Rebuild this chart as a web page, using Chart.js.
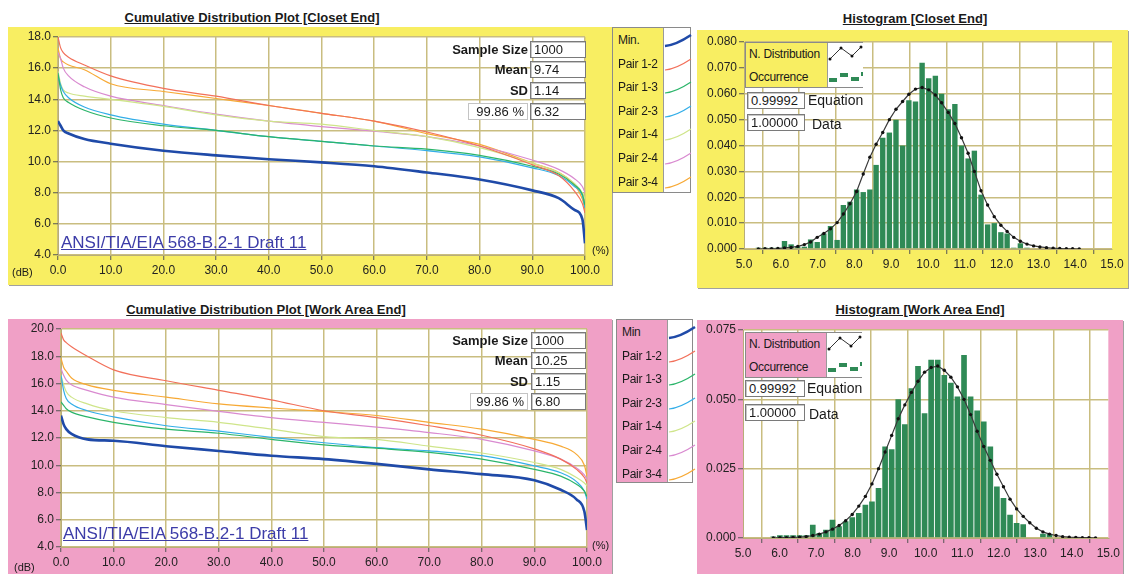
<!DOCTYPE html>
<html>
<head>
<meta charset="utf-8">
<title>Cable test distributions</title>
<script src="https://cdn.jsdelivr.net/npm/chart.js@4.4.1/dist/chart.umd.min.js"></script>
<style>
  body { margin: 0; background: #fff; font-family: "Liberation Sans", Arial, sans-serif; color: #1a1a1a; }
  #page { position: relative; width: 1133px; height: 574px; overflow: hidden; }
  canvas { position: absolute; box-shadow: 1px 1px 0 #a0a0a0; }
  .t { position: absolute; white-space: nowrap; }
  .title { font-weight: bold; font-size: 13px; text-decoration: underline; transform: translateX(-50%); }
  .stat { font-weight: bold; font-size: 13px; line-height: 17px; text-align: right; }
  .box { background: #fff; border: 1px solid #7a7a7a; box-shadow: inset 1px 1px 0 #c8c8c8; font-size: 13px;
         padding-left: 3px; box-sizing: border-box; height: 17px; line-height: 15px; }
  .ansi { font-size: 17px; color: #3c3ca8; text-decoration: underline; }
  .small { font-size: 11px; }
  .legend { position: absolute; border: 1px solid #8a8a8a; box-sizing: border-box; }
  .legend .strip { position: absolute; top: 0; background: #fff; border-left: 1px solid #9a9a9a; }
  .legend .lab { position: absolute; font-size: 12px; white-space: nowrap; letter-spacing: -0.3px; }
</style>
</head>
<body>
<div id="page">
  <canvas id="cdfCloset" width="604" height="258" style="left:8px;top:27px;background:#f8ee62"></canvas>
  <canvas id="histCloset" width="431" height="258" style="left:697px;top:30px;background:#f8ee62"></canvas>
  <canvas id="cdfWork" width="604" height="255" style="left:8px;top:319px;background:#f0a0c6"></canvas>
  <canvas id="histWork" width="426" height="254" style="left:697px;top:320px;background:#f0a0c6"></canvas>

  <div class="t title" style="left:252px;top:10px">Cumulative Distribution Plot [Closet End]</div>
  <div class="t title" style="left:915px;top:11px">Histogram [Closet End]</div>
  <div class="t title" style="left:266px;top:302px">Cumulative Distribution Plot [Work Area End]</div>
  <div class="t title" style="left:920px;top:302px">Histogram [Work Area End]</div>

  <!-- closet end stats -->
  <div class="t stat" style="right:605px;top:41px">Sample Size</div>
  <div class="t box" style="left:530px;top:41px;width:56px">1000</div>
  <div class="t stat" style="right:605px;top:61px">Mean</div>
  <div class="t box" style="left:530px;top:61px;width:56px">9.74</div>
  <div class="t stat" style="right:605px;top:82px">SD</div>
  <div class="t box" style="left:530px;top:82px;width:56px">1.14</div>
  <div class="t box" style="left:468px;top:103px;width:60px;text-align:right;padding-right:3px;border-color:#c4c4c4;box-shadow:none">99.86 %</div>
  <div class="t box" style="left:530px;top:103px;width:56px">6.32</div>

  <!-- work area end stats -->
  <div class="t stat" style="right:605px;top:332px">Sample Size</div>
  <div class="t box" style="left:531px;top:332px;width:55px">1000</div>
  <div class="t stat" style="right:605px;top:352px">Mean</div>
  <div class="t box" style="left:531px;top:352px;width:55px">10.25</div>
  <div class="t stat" style="right:605px;top:373px">SD</div>
  <div class="t box" style="left:531px;top:373px;width:55px">1.15</div>
  <div class="t box" style="left:470px;top:393px;width:58px;text-align:right;padding-right:3px;border-color:#c4c4c4;box-shadow:none">99.86 %</div>
  <div class="t box" style="left:531px;top:393px;width:55px">6.80</div>

  <div class="t ansi" style="left:61px;top:233px">ANSI/TIA/EIA 568-B.2-1 Draft 11</div>
  <div class="t ansi" style="left:63px;top:524px">ANSI/TIA/EIA 568-B.2-1 Draft 11</div>
  <div class="t small" style="left:12px;top:266px">(dB)</div>
  <div class="t small" style="left:14px;top:561px">(dB)</div>
  <div class="t small" style="left:592px;top:244px">(%)</div>
  <div class="t small" style="left:592px;top:539px">(%)</div>

  <div id="legCloset" class="legend" style="left:612px;top:27px;width:79px;height:166px;background:#f8ee62"></div>
  <div id="legWork" class="legend" style="left:616px;top:319px;width:77px;height:164px;background:#f0a0c6"></div>

  <!-- histogram legends -->
  <div class="legend" style="left:745px;top:42px;width:118px;height:46px;background:#f8ee62">
    <div class="lab" style="left:3px;top:4px">N. Distribution</div>
    <div class="lab" style="left:3px;top:27px">Occurrence</div>
    <svg class="strip" style="left:81px" width="35" height="44">
      <polyline points="2,16 13,5 24,13 33,4" fill="none" stroke="#333" stroke-width="1"/>
      <circle cx="2" cy="16" r="1.5" fill="#111"/><circle cx="13" cy="5" r="1.5" fill="#111"/>
      <circle cx="24" cy="13" r="1.5" fill="#111"/><circle cx="33" cy="4" r="1.5" fill="#111"/>
      <path d="M1,37H9M12,32H20M23,36H31M33,31H35" stroke="#2f8a56" stroke-width="4"/>
    </svg>
  </div>
  <div class="t box" style="left:747px;top:92px;width:58px">0.99992</div>
  <div class="t" style="left:808px;top:92px;font-size:14px">Equation</div>
  <div class="t box" style="left:747px;top:114px;width:58px">1.00000</div>
  <div class="t" style="left:812px;top:116px;font-size:14px">Data</div>

  <div class="legend" style="left:745px;top:332px;width:117px;height:46px;background:#f0a0c6">
    <div class="lab" style="left:3px;top:4px">N. Distribution</div>
    <div class="lab" style="left:3px;top:27px">Occurrence</div>
    <svg class="strip" style="left:80px" width="35" height="44">
      <polyline points="2,16 13,5 24,13 33,4" fill="none" stroke="#333" stroke-width="1"/>
      <circle cx="2" cy="16" r="1.5" fill="#111"/><circle cx="13" cy="5" r="1.5" fill="#111"/>
      <circle cx="24" cy="13" r="1.5" fill="#111"/><circle cx="33" cy="4" r="1.5" fill="#111"/>
      <path d="M1,37H9M12,32H20M23,36H31M33,31H35" stroke="#2f8a56" stroke-width="4"/>
    </svg>
  </div>
  <div class="t box" style="left:745px;top:380px;width:60px">0.99992</div>
  <div class="t" style="left:807px;top:380px;font-size:14px">Equation</div>
  <div class="t box" style="left:745px;top:404px;width:60px">1.00000</div>
  <div class="t" style="left:809px;top:406px;font-size:14px">Data</div>
</div>

<script>
// cumulative distribution: percent of links vs NEXT margin (dB)
const cdfPct = [0, 0.5, 1, 2, 5, 10, 20, 30, 40, 50, 60, 70, 80, 90, 95, 98, 99.5, 100];

const closetLabels = ["Min.", "Pair 1-2", "Pair 1-3", "Pair 2-3", "Pair 1-4", "Pair 2-4", "Pair 3-4"];
const workLabels = ["Min", "Pair 1-2", "Pair 1-3", "Pair 2-3", "Pair 1-4", "Pair 2-4", "Pair 3-4"];
const seriesColors = ["#1f4aa8", "#f2705a", "#2bb56a", "#33aee8", "#cfe58a", "#d98ad0", "#f7a935"];

const closetMin = [12.6, 12.3, 12.0, 11.8, 11.45, 11.15, 10.7, 10.4, 10.15, 9.95, 9.7, 9.3, 8.85, 8.15, 7.65, 6.9, 6.3, 4.75];
const closet12 = [18.0, 17.3, 17.0, 16.7, 16.2, 15.5, 14.7, 14.2, 13.6, 13.1, 12.6, 11.9, 11.0, 9.8, 9.1, 8.1, 7.3, 6.7];
const closet13 = [15.7, 14.6, 14.1, 13.8, 13.3, 12.8, 12.3, 12.0, 11.6, 11.3, 11.0, 10.8, 10.4, 9.7, 9.2, 8.5, 7.9, 7.2];
const closet23 = [15.5, 14.9, 14.5, 14.1, 13.5, 13.0, 12.4, 12.0, 11.6, 11.3, 11.0, 10.7, 10.3, 9.6, 9.1, 8.4, 7.8, 7.0];
const closet14 = [15.8, 15.0, 14.6, 14.4, 14.2, 14.0, 13.55, 13.0, 12.6, 12.4, 12.0, 11.6, 10.9, 9.9, 9.3, 8.6, 8.0, 7.6];
const closet24 = [17.0, 16.6, 16.0, 15.5, 14.8, 14.2, 13.6, 13.05, 12.6, 12.25, 11.95, 11.6, 11.0, 10.1, 9.5, 8.9, 8.4, 8.0];
const closet34 = [17.3, 16.6, 16.4, 16.2, 15.9, 15.0, 14.5, 14.05, 13.6, 13.1, 12.6, 11.8, 11.1, 9.9, 9.3, 8.5, 7.6, 6.9];

const workMin = [13.65, 13.0, 12.65, 12.3, 11.9, 11.8, 11.4, 11.05, 10.7, 10.45, 10.1, 9.7, 9.35, 8.9, 8.2, 7.5, 6.6, 5.25];
const work12 = [19.7, 19.2, 19.0, 18.7, 18.0, 17.0, 16.2, 15.5, 14.8, 14.0, 13.5, 12.9, 12.2, 11.2, 10.45, 9.7, 9.1, 8.7];
const work13 = [14.65, 14.4, 14.15, 13.9, 13.55, 13.15, 12.65, 12.35, 11.9, 11.5, 11.25, 10.95, 10.45, 9.7, 9.2, 8.6, 8.1, 7.7];
const work23 = [16.6, 15.5, 14.9, 14.5, 14.0, 13.55, 12.9, 12.5, 12.05, 11.65, 11.3, 11.05, 10.7, 9.95, 9.45, 8.8, 8.1, 7.5];
const work14 = [16.6, 15.9, 15.4, 15.0, 14.5, 14.0, 13.5, 13.15, 12.65, 12.1, 11.9, 11.4, 10.9, 10.2, 9.7, 9.1, 8.7, 8.5];
const work24 = [17.1, 16.6, 16.25, 15.9, 15.5, 15.0, 14.45, 13.95, 13.5, 13.15, 12.8, 12.4, 11.9, 11.05, 10.45, 9.8, 9.3, 8.95];
const work34 = [17.85, 17.2, 16.9, 16.4, 15.9, 15.5, 15.0, 14.5, 14.2, 13.95, 13.65, 13.15, 12.65, 11.9, 11.4, 10.8, 10.0, 9.2];

// histograms (bin centres, occurrence share, fitted normal curve)
const closetBins = [5.39, 5.57, 5.75, 5.92, 6.10, 6.28, 6.46, 6.64, 6.81, 6.99,
  7.17, 7.35, 7.53, 7.70, 7.88, 8.06, 8.24, 8.42, 8.59, 8.77,
  8.95, 9.13, 9.31, 9.48, 9.66, 9.84, 10.02, 10.20, 10.37, 10.55,
  10.73, 10.91, 11.09, 11.26, 11.44, 11.62, 11.80, 11.98, 12.15, 12.33,
  12.51, 12.69, 12.87, 13.04, 13.22, 13.40, 13.58, 13.76, 13.93, 14.11];
const closetOcc = [0.0005, 0.0005, 0.0005, 0.0005, 0.0031, 0.0018, 0.0009, 0.0009, 0.0037, 0.0027,
  0.0060, 0.0089, 0.0035, 0.0170, 0.0183, 0.0230, 0.0220, 0.0230, 0.0325, 0.0430,
  0.0450, 0.0500, 0.0400, 0.0575, 0.0570, 0.0720, 0.0660, 0.0670, 0.0600, 0.0540,
  0.0560, 0.0400, 0.0350, 0.0380, 0.0210, 0.0095, 0.0100, 0.0065, 0.0060, 0.0005,
  0.0022, 0.0005, 0, 0, 0, 0, 0, 0, 0, 0];
const closetNorm = [0.0000, 0.0001, 0.0001, 0.0002, 0.0004, 0.0006, 0.0010, 0.0017, 0.0027, 0.0045,
  0.0060, 0.0078, 0.0102, 0.0135, 0.0175, 0.0222, 0.0290, 0.0355, 0.0405, 0.0450,
  0.0500, 0.0540, 0.0570, 0.0598, 0.0618, 0.0624, 0.0615, 0.0595, 0.0565, 0.0528,
  0.0485, 0.0430, 0.0370, 0.0300, 0.0225, 0.0170, 0.0125, 0.0092, 0.0068, 0.0045,
  0.0030, 0.0019, 0.0012, 0.0008, 0.0005, 0.0003, 0.0002, 0.0001, 0.0001, 0.0000];

const workBins = [5.83, 6.01, 6.19, 6.37, 6.55, 6.73, 6.91, 7.09, 7.27, 7.45,
  7.63, 7.81, 7.99, 8.17, 8.35, 8.53, 8.71, 8.89, 9.07, 9.25,
  9.43, 9.61, 9.79, 9.97, 10.15, 10.33, 10.51, 10.69, 10.87, 11.05,
  11.23, 11.41, 11.59, 11.77, 11.95, 12.13, 12.31, 12.49, 12.67, 12.85,
  13.03, 13.21, 13.39, 13.57, 13.75, 13.93, 14.11, 14.29, 14.47, 14.65];
const workOcc = [0.0005, 0.0010, 0.0010, 0.0010, 0.0010, 0.0010, 0.0048, 0.0018, 0.0030, 0.0066,
  0.0042, 0.0060, 0.0075, 0.0090, 0.0120, 0.0132, 0.0180, 0.0330, 0.0320, 0.0500,
  0.0410, 0.0540, 0.0620, 0.0450, 0.0643, 0.0643, 0.0588, 0.0560, 0.0510, 0.0660,
  0.0510, 0.0460, 0.0420, 0.0330, 0.0186, 0.0144, 0.0084, 0.0054, 0.0050, 0.0003,
  0, 0.0015, 0.0015, 0, 0, 0, 0, 0, 0, 0];
const workNorm = [0.0000, 0.0001, 0.0001, 0.0002, 0.0003, 0.0005, 0.0009, 0.0014, 0.0022, 0.0032,
  0.0045, 0.0062, 0.0085, 0.0115, 0.0150, 0.0195, 0.0250, 0.0310, 0.0370, 0.0430,
  0.0480, 0.0525, 0.0565, 0.0598, 0.0615, 0.0620, 0.0605, 0.0580, 0.0545, 0.0500,
  0.0445, 0.0385, 0.0330, 0.0280, 0.0230, 0.0185, 0.0140, 0.0105, 0.0078, 0.0055,
  0.0035, 0.0022, 0.0014, 0.0009, 0.0005, 0.0003, 0.0002, 0.0001, 0.0001, 0.0000];

const gridColor = "#c9bd80";
const tickFont = { family: "'Liberation Sans', Arial, sans-serif", size: 12 };

const plotBg = {
  id: "plotBg",
  beforeDraw(chart) {
    const { ctx, chartArea: a } = chart;
    ctx.save();
    ctx.fillStyle = "#ffffff";
    ctx.fillRect(a.left, a.top, a.width, a.height);
    ctx.restore();
  },
};
Chart.register(plotBg);

function axis(min, max, step, digits, size, horizontal) {
  return {
    type: "linear",
    min,
    max,
    offset: false,
    grid: { color: gridColor, lineWidth: 1.5, tickColor: "#555", tickLength: 5, tickWidth: 1 },
    border: { color: "#b8ad78", width: 1 },
    ticks: {
      stepSize: step,
      color: "#222",
      font: tickFont,
      padding: horizontal ? 3 : 2,
      maxRotation: 0,
      autoSkip: false,
      callback: (v) => v.toFixed(digits),
    },
    afterFit: (s) => {
      if (horizontal) s.height = size;
      else s.width = size;
    },
  };
}

function cdfChart(id, series, yMin, yMax, pad, yWidth, xHeight) {
  new Chart(document.getElementById(id), {
    type: "line",
    data: {
      datasets: series.map((vals, i) => ({
        label: closetLabels[i],
        data: cdfPct.map((p, j) => ({ x: p, y: vals[j] })),
        borderColor: seriesColors[i],
        borderWidth: i === 0 ? 2.6 : 1.2,
        pointRadius: 0,
        cubicInterpolationMode: "monotone",
      })),
    },
    options: {
      responsive: false,
      animation: false,
      layout: { padding: pad },
      plugins: { legend: { display: false }, tooltip: { enabled: false } },
      scales: {
        x: axis(0, 100, 10, 1, xHeight, true),
        y: axis(yMin, yMax, 2, 1, yWidth, false),
      },
    },
  });
}

function histChart(id, bins, occ, norm, yMax, yStep, pad, yWidth, xHeight) {
  new Chart(document.getElementById(id), {
    type: "bar",
    data: {
      datasets: [
        {
          type: "line",
          label: "N. Distribution",
          data: bins.map((b, i) => ({ x: b, y: norm[i] })),
          borderColor: "#3a3a3a",
          borderWidth: 1.2,
          pointRadius: 1.7,
          pointBackgroundColor: "#111",
          pointBorderWidth: 0,
        },
        {
          type: "bar",
          label: "Occurrence",
          data: bins.map((b, i) => ({ x: b, y: occ[i] })),
          backgroundColor: "#2f8a56",
          barPercentage: 0.86,
          categoryPercentage: 1,
        },
      ],
    },
    options: {
      responsive: false,
      animation: false,
      layout: { padding: pad },
      plugins: { legend: { display: false }, tooltip: { enabled: false } },
      scales: {
        x: axis(5, 15, 1, 1, xHeight, true),
        y: axis(0, yMax, yStep, 3, yWidth, false),
      },
    },
  });
}

function buildLegend(id, labels) {
  const el = document.getElementById(id);
  const strip = document.createElement("div");
  strip.className = "strip";
  strip.style.left = "50px";
  strip.style.right = "0px";
  strip.style.bottom = "0px";
  el.appendChild(strip);
  labels.forEach((name, i) => {
    const top = 5 + i * 23.6;
    el.insertAdjacentHTML(
      "beforeend",
      `<div class="lab" style="left:5px;top:${top}px">${name}</div>` +
        `<svg style="position:absolute;left:51px;top:${top}px" width="28" height="16">` +
        `<path d="M1,13 Q12,12 27,2" fill="none" stroke="${seriesColors[i]}" stroke-width="${i === 0 ? 2.6 : 1.2}"/></svg>`
    );
  });
}

cdfChart("cdfCloset", [closetMin, closet12, closet13, closet23, closet14, closet24, closet34],
  4, 18, { left: 0, right: 27, top: 10, bottom: 0 }, 50, 30);
cdfChart("cdfWork", [workMin, work12, work13, work23, work14, work24, work34],
  4, 20, { left: 0, right: 25, top: 10, bottom: 0 }, 53, 27);
histChart("histCloset", closetBins, closetOcc, closetNorm, 0.08, 0.01,
  { left: 0, right: 16, top: 12, bottom: 0 }, 47, 39);
histChart("histWork", workBins, workOcc, workNorm, 0.075, 0.025,
  { left: 0, right: 14, top: 10, bottom: 0 }, 46, 36);

buildLegend("legCloset", closetLabels);
buildLegend("legWork", workLabels);
</script>
</body>
</html>
